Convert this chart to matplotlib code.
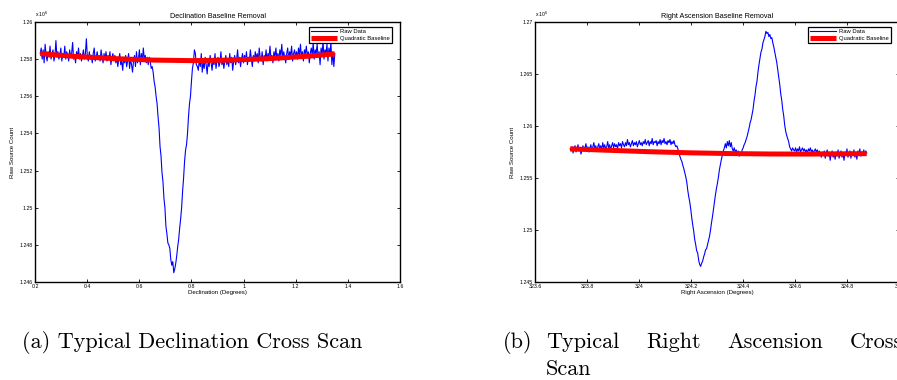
import numpy as np
import matplotlib
matplotlib.use("Agg")
import matplotlib.pyplot as plt
from matplotlib.ticker import FuncFormatter

# ---------------- data (counts in units of 10^6) ----------------
dec_start, dec_end = 0.22, 1.35
dec_raw = [
    1.2583, 1.2586, 1.2580, 1.2585, 1.2578, 1.2588, 1.2582, 1.2579, 1.2584, 1.2581,
    1.2587, 1.2580, 1.2583, 1.2585, 1.2579, 1.2582, 1.2590, 1.2581, 1.2584, 1.2580,
    1.2582, 1.2586, 1.2579, 1.2583, 1.2581, 1.2587, 1.2580, 1.2584, 1.2582, 1.2579,
    1.2585, 1.2581, 1.2583, 1.2589, 1.2580, 1.2582, 1.2578, 1.2584, 1.2581, 1.2586,
    1.2580, 1.2583, 1.2579, 1.2582, 1.2585, 1.2580, 1.2583, 1.2591, 1.2581, 1.2579,
    1.2584, 1.2580, 1.2582, 1.2578, 1.2583, 1.2586, 1.2579, 1.2581, 1.2584, 1.2580,
    1.2582, 1.2579, 1.2585, 1.2581, 1.2578, 1.2583, 1.2580, 1.2584, 1.2579, 1.2582,
    1.2580, 1.2584, 1.2577, 1.2581, 1.2583, 1.2579, 1.2582, 1.2578, 1.2581, 1.2576,
    1.2580, 1.2583, 1.2577, 1.2579, 1.2574, 1.2581, 1.2578, 1.2582, 1.2576, 1.2579,
    1.2583, 1.2575, 1.2580, 1.2577, 1.2573, 1.2579, 1.2582, 1.2576, 1.2584, 1.2578,
    1.2580, 1.2585, 1.2577, 1.2583, 1.2579, 1.2586, 1.2580, 1.2582, 1.2578, 1.2581,
    # dip
    1.2577, 1.2581, 1.2579, 1.2575, 1.2576, 1.2573, 1.2568, 1.2565, 1.2560, 1.2556,
    1.2549, 1.2543, 1.2533, 1.2528, 1.2519, 1.2514, 1.2505, 1.2500, 1.2490, 1.2486,
    1.2481, 1.2480, 1.2478, 1.2472, 1.2469, 1.2471, 1.2465, 1.2467, 1.2470, 1.2474,
    1.2479, 1.2483, 1.2489, 1.2494, 1.2500, 1.2509, 1.2516, 1.2525, 1.2531, 1.2534,
    1.2540, 1.2549, 1.2556, 1.2560, 1.2568, 1.2575, 1.2578, 1.2585, 1.2583, 1.2577,
    1.2576,
    # tail
    1.2574, 1.2580, 1.2576, 1.2583, 1.2573, 1.2578, 1.2575, 1.2581, 1.2577, 1.2572,
    1.2579, 1.2576, 1.2582, 1.2578, 1.2574, 1.2580, 1.2577, 1.2583, 1.2575, 1.2579,
    1.2581, 1.2576, 1.2578, 1.2584, 1.2577, 1.2580, 1.2575, 1.2579, 1.2582, 1.2577,
    1.2580, 1.2576, 1.2583, 1.2578, 1.2581, 1.2574, 1.2579, 1.2582, 1.2577, 1.2580,
    1.2585, 1.2578, 1.2581, 1.2576, 1.2580, 1.2583, 1.2578, 1.2582, 1.2579, 1.2584,
    1.2577, 1.2581, 1.2579, 1.2585, 1.2580, 1.2576, 1.2582, 1.2579, 1.2584, 1.2580,
    1.2583, 1.2578, 1.2586, 1.2581, 1.2579, 1.2584, 1.2577, 1.2582, 1.2580, 1.2585,
    1.2579, 1.2583, 1.2581, 1.2587, 1.2580, 1.2582, 1.2578, 1.2584, 1.2581, 1.2586,
    1.2580, 1.2583, 1.2579, 1.2585, 1.2582, 1.2588, 1.2580, 1.2584, 1.2581, 1.2578,
    1.2583, 1.2586, 1.2580, 1.2584, 1.2582, 1.2587, 1.2579, 1.2583, 1.2585, 1.2581,
    1.2584, 1.2580, 1.2586, 1.2582, 1.2588, 1.2581, 1.2584, 1.2579, 1.2585, 1.2583,
    1.2587, 1.2581, 1.2584, 1.2578, 1.2583, 1.2586, 1.2582, 1.2589, 1.2580, 1.2585,
    1.2583, 1.2588, 1.2581, 1.2584, 1.2577, 1.2586, 1.2582, 1.2590, 1.2580, 1.2585,
    1.2583, 1.2588, 1.2579, 1.2586, 1.2582, 1.2589, 1.2577, 1.2584, 1.2576, 1.2583,
]
dec_base_x = [0.22, 0.35, 0.50, 0.65, 0.80, 0.95, 1.10, 1.25, 1.35]
dec_base_y = [1.25830, 1.25815, 1.25803, 1.25795, 1.25792, 1.25795, 1.25803, 1.25816, 1.25828]

ra_start, ra_end = 323.735, 324.876
ra_raw = [
    1.2578, 1.2576, 1.2580, 1.2574, 1.2579, 1.2581, 1.2575, 1.2578, 1.2582, 1.2576,
    1.2579, 1.2573, 1.2577, 1.2581, 1.2576, 1.2579, 1.2583, 1.2577, 1.2580, 1.2575,
    1.2579, 1.2582, 1.2577, 1.2580, 1.2584, 1.2578, 1.2581, 1.2576, 1.2580, 1.2583,
    1.2578, 1.2581, 1.2577, 1.2584, 1.2579, 1.2582, 1.2578, 1.2580, 1.2585, 1.2579,
    1.2582, 1.2577, 1.2581, 1.2584, 1.2579, 1.2583, 1.2580, 1.2582, 1.2578, 1.2584,
    1.2581, 1.2583, 1.2579, 1.2585, 1.2582, 1.2580, 1.2584, 1.2581, 1.2587, 1.2582,
    1.2584, 1.2580, 1.2583, 1.2586, 1.2581, 1.2584, 1.2582, 1.2585, 1.2580, 1.2583,
    1.2586, 1.2582, 1.2584, 1.2581, 1.2585, 1.2583, 1.2587, 1.2582, 1.2584, 1.2586,
    1.2581, 1.2585, 1.2583, 1.2588, 1.2582, 1.2585, 1.2584, 1.2586, 1.2581, 1.2585,
    1.2583, 1.2587, 1.2582, 1.2586, 1.2584, 1.2588, 1.2583, 1.2585, 1.2582, 1.2586,
    1.2584, 1.2587, 1.2582, 1.2585, 1.2583, 1.2586, 1.2582, 1.2580, 1.2581,
    # dip
    1.2578, 1.2574, 1.2571, 1.2568, 1.2566, 1.2562, 1.2559, 1.2555, 1.2551, 1.2546,
    1.2538, 1.2532, 1.2527, 1.2520, 1.2512, 1.2505, 1.2499, 1.2491, 1.2486, 1.2480,
    1.2478, 1.2471, 1.2467, 1.2465, 1.2468, 1.2470, 1.2474, 1.2477, 1.2481, 1.2482,
    1.2486, 1.2490, 1.2494, 1.2500, 1.2507, 1.2513, 1.2520, 1.2527, 1.2534, 1.2540,
    1.2545, 1.2551, 1.2558, 1.2563, 1.2568, 1.2572, 1.2576, 1.2579, 1.2583,
    # hump between dip and peak
    1.2579, 1.2585, 1.2581, 1.2586, 1.2580, 1.2584, 1.2578, 1.2576, 1.2579, 1.2575,
    1.2577, 1.2573, 1.2576, 1.2571, 1.2574, 1.2572, 1.2577,
    # peak
    1.2579, 1.2582, 1.2584, 1.2587, 1.2590, 1.2594, 1.2598, 1.2603, 1.2606, 1.2611,
    1.2616, 1.2624, 1.2630, 1.2638, 1.2643, 1.2652, 1.2659, 1.2665, 1.2671, 1.2674,
    1.2680, 1.2683, 1.2686, 1.2691, 1.2689, 1.2690, 1.2686, 1.2688, 1.2684, 1.2685,
    1.2680, 1.2676, 1.2671, 1.2666, 1.2661, 1.2654, 1.2647, 1.2640, 1.2631, 1.2625,
    1.2616, 1.2610, 1.2601, 1.2595, 1.2591, 1.2588, 1.2585, 1.2580, 1.2578, 1.2576,
    1.2579, 1.2577,
    # tail
    1.2576, 1.2579, 1.2575, 1.2578, 1.2576, 1.2580, 1.2575, 1.2577, 1.2579, 1.2576,
    1.2578, 1.2575, 1.2577, 1.2574, 1.2578, 1.2576, 1.2579, 1.2575, 1.2577, 1.2574,
    1.2576, 1.2578, 1.2575, 1.2577, 1.2573, 1.2576, 1.2574, 1.2570, 1.2575, 1.2572,
    1.2576, 1.2569, 1.2574, 1.2577, 1.2571, 1.2575, 1.2567, 1.2573, 1.2576, 1.2570,
    1.2574, 1.2568, 1.2575, 1.2571, 1.2577, 1.2569, 1.2573, 1.2576, 1.2570, 1.2574,
    1.2567, 1.2575, 1.2572, 1.2578, 1.2570, 1.2574, 1.2576, 1.2569, 1.2575, 1.2572,
    1.2577, 1.2570, 1.2574, 1.2568, 1.2576, 1.2573, 1.2578, 1.2571, 1.2575, 1.2573,
    1.2577, 1.2572, 1.2576, 1.2574,
]
ra_base_x = [323.735, 323.9, 324.05, 324.2, 324.35, 324.5, 324.65, 324.876]
ra_base_y = [1.25780, 1.25765, 1.25752, 1.25742, 1.25735, 1.25731, 1.25730, 1.25734]

dec_xticks = [0.2, 0.4, 0.6, 0.8, 1.0, 1.2, 1.4, 1.6]
dec_yticks = [1.246, 1.248, 1.250, 1.252, 1.254, 1.256, 1.258, 1.260]
ra_xticks = [323.6, 323.8, 324.0, 324.2, 324.4, 324.6, 324.8, 325.0]
ra_yticks = [1.245, 1.250, 1.255, 1.260, 1.265, 1.270]

titles = ["Declination Baseline Removal", "Right Ascension Baseline Removal"]
xlabels = ["Declination (Degrees)", "Right Ascension (Degrees)"]
ylabel = "Raw Source Count"
legend_labels = ["Raw Data", "Quadratic Baseline"]
cap_a = "(a) Typical Declination Cross Scan"
cap_b_words = ["(b)", "Typical", "Right", "Ascension", "Cross"]
cap_b_line2 = "Scan"

# ---------------- figure ----------------
W, H = 897, 380
plt.rcParams['font.family'] = ['Liberation Sans', 'DejaVu Sans']
fig = plt.figure(figsize=(W / 100, H / 100), dpi=100)

fmt = FuncFormatter(lambda v, p: ('%.4f' % v).rstrip('0').rstrip('.'))


def make_axes(rect, xr, raw, bx, by, xt, yt, title, xlabel):
    ax = fig.add_axes(rect)
    x = np.linspace(xr[0], xr[1], len(raw))
    l1, = ax.plot(x, raw, color=(0, 0, 1), lw=0.8)
    l2, = ax.plot(bx, by, color=(1, 0, 0), lw=3.6, solid_capstyle='butt')
    ax.set_xlim(xt[0], xt[-1])
    ax.set_ylim(yt[0], yt[-1])
    ax.set_xticks(xt)
    ax.set_yticks(yt)
    ax.xaxis.set_major_formatter(fmt)
    ax.yaxis.set_major_formatter(fmt)
    ax.tick_params(direction='in', top=True, right=True, length=2.5, width=0.6,
                   labelsize=3.8, pad=1.5)
    for s in ax.spines.values():
        s.set_linewidth(1.0)
    ax.set_title(title, fontsize=5.2, pad=3)
    ax.set_xlabel(xlabel, fontsize=4.4, labelpad=1)
    ax.set_ylabel(ylabel, fontsize=4.4, labelpad=3)
    ax.text(0.0, 1.012, r'x 10$^6$', transform=ax.transAxes, fontsize=3.6,
            ha='left', va='bottom')
    bbox = ax.get_position()
    wpx, hpx = bbox.width * W, bbox.height * H
    leg = ax.legend([l1, l2], legend_labels, loc='upper right',
                    bbox_to_anchor=(1 - 8 / wpx, 1 - 5 / hpx), borderaxespad=0,
                    fontsize=4.2, fancybox=False, framealpha=1, edgecolor='black',
                    handlelength=4.5, handletextpad=0.5,
                    borderpad=0.35, labelspacing=0.3)
    leg.get_frame().set_linewidth(0.9)
    return ax


ax1 = make_axes([35 / W, 98 / H, 365 / W, 260 / H], (dec_start, dec_end), dec_raw,
                dec_base_x, dec_base_y, dec_xticks, dec_yticks, titles[0], xlabels[0])
ax2 = make_axes([535 / W, 98 / H, 364 / W, 260 / H], (ra_start, ra_end), ra_raw,
                ra_base_x, ra_base_y, ra_xticks, ra_yticks, titles[1], xlabels[1])

# ---------------- captions ----------------
cfont = dict(family='cmr10', fontsize=16)
fig.text(22 / W, 1 - 342 / H, cap_a, ha='left', va='center', **cfont)
bx_pos = [503, 546, 646, 727, 850]
for wtxt, px in zip(cap_b_words, bx_pos):
    fig.text(px / W, 1 - 342 / H, wtxt, ha='left', va='center', **cfont)
fig.text(546 / W, 1 - 369 / H, cap_b_line2, ha='left', va='center', **cfont)

fig.savefig("out.png", dpi=100)
